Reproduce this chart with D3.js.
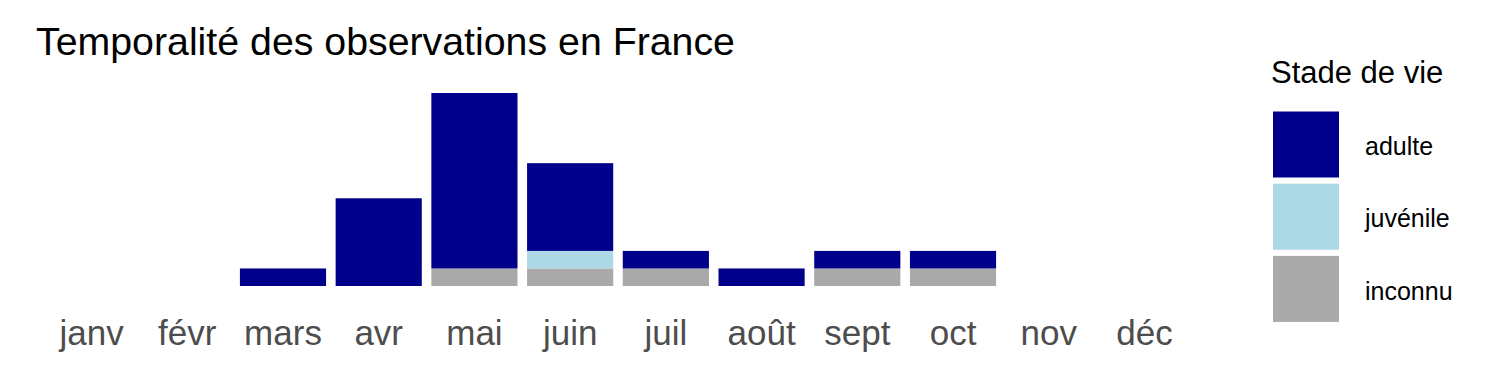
<!DOCTYPE html>
<html>
<head>
<meta charset="utf-8">
<script src="https://cdn.jsdelivr.net/npm/d3@7"></script>
<style>
	body { margin: 0; background: #fff; }
	text { font-family: "Liberation Sans", Arial, sans-serif; }
</style>
</head>
<body>
<div id="chart"></div>
<script>
var months = ["janv", "févr", "mars", "avr", "mai", "juin", "juil", "août", "sept", "oct", "nov", "déc"];
var stages = ["adulte", "juvénile", "inconnu"];
var adulte = [0, 0, 1, 5, 10, 5, 1, 1, 1, 1, 0, 0];
var juvenile = [0, 0, 0, 0, 0, 1, 0, 0, 0, 0, 0, 0];
var inconnu = [0, 0, 0, 0, 1, 1, 1, 0, 1, 1, 0, 0];
var stageColors = ["#00008B", "#ADD8E6", "#A9A9A9"];

var width = 1500;
var height = 375;

var rows = months.map(function (m, i) {
	return { month: m, adulte: adulte[i], "juvénile": juvenile[i], inconnu: inconnu[i] };
});

// stacking order: inconnu at the bottom, adulte on top
var stack = d3.stack().keys(stages.slice().reverse());
var series = stack(rows);

var xScale = d3.scaleBand()
	.domain(months)
	.range([43.7, 1192.3])
	.paddingInner(0.1)
	.paddingOuter(0.05);

var yScale = d3.scaleLinear()
	.domain([0, 11])
	.range([286, 93]);

var color = d3.scaleOrdinal().domain(stages).range(stageColors);

var svg = d3.select("#chart")
	.append("svg")
	.attr("width", width)
	.attr("height", height);

svg.append("g")
	.selectAll("g")
	.data(series)
	.enter()
	.append("g")
	.style("fill", function (d) { return color(d.key); })
	.selectAll("rect")
	.data(function (d) { return d; })
	.enter()
	.filter(function (d) { return d[1] > d[0]; })
	.append("rect")
	.attr("x", function (d) { return xScale(d.data.month); })
	.attr("width", xScale.bandwidth())
	.attr("y", function (d) { return yScale(d[1]); })
	.attr("height", function (d) { return yScale(d[0]) - yScale(d[1]); });

// x axis labels
var xAxis = d3.axisBottom(xScale).tickSize(0).tickPadding(0);
var gx = svg.append("g")
	.attr("transform", "translate(0,312)")
	.call(xAxis);
gx.select(".domain").remove();
gx.selectAll("text")
	.attr("y", 0)
	.attr("dy", "0.95em")
	.style("font-size", "35px")
	.style("fill", "#4D4D4D")
	.style("font-family", "'Liberation Sans', Arial, sans-serif");

// title
svg.append("text")
	.attr("x", 36)
	.attr("y", 55)
	.style("font-size", "39.3px")
	.style("fill", "#000")
	.text("Temporalité des observations en France");

// legend
var legend = svg.append("g").attr("transform", "translate(1273,0)");
legend.append("text")
	.attr("x", -2)
	.attr("y", 83)
	.style("font-size", "31px")
	.text("Stade de vie");

stages.forEach(function (s, i) {
	legend.append("rect")
		.attr("x", 0)
		.attr("y", 111.5 + i * 72.2)
		.attr("width", 66)
		.attr("height", 66)
		.style("fill", color(s));
	legend.append("text")
		.attr("x", 92)
		.attr("y", 111.5 + i * 72.2 + 35)
		.attr("dy", "0.35em")
		.style("font-size", "25px")
		.text(s);
});
</script>
</body>
</html>
